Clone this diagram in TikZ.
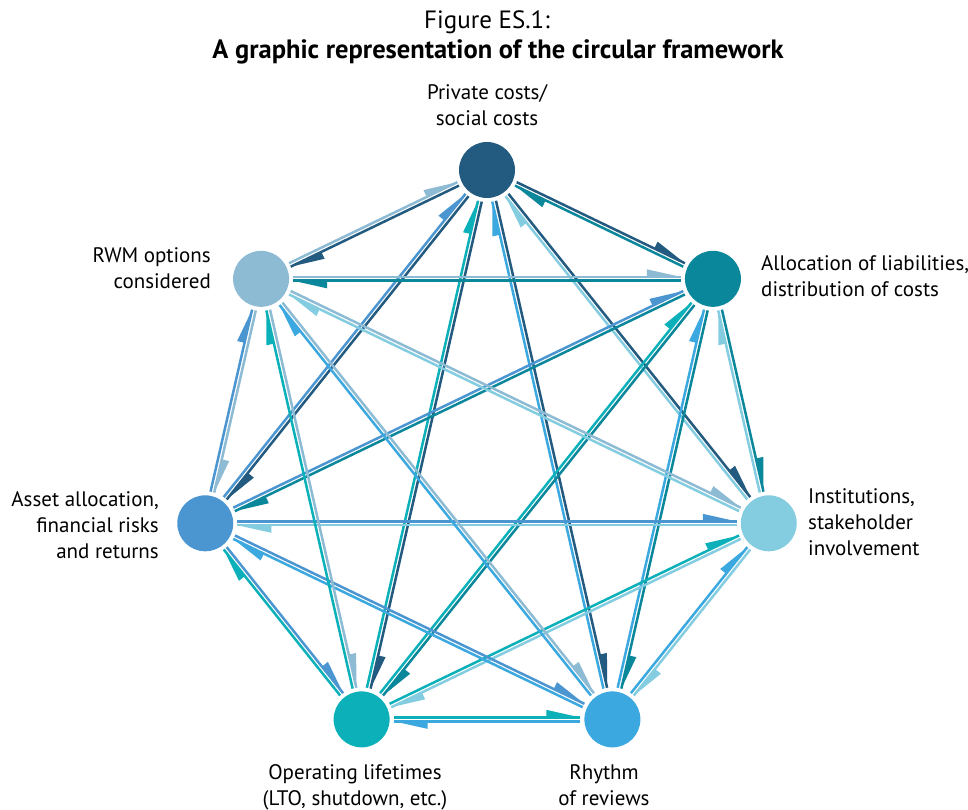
\documentclass[tikz,border=0pt]{standalone}
\usepackage{fontspec}
\setmainfont{PT Sans}
\usetikzlibrary{calc}
\definecolor{cP}{HTML}{235A80}
\definecolor{cA}{HTML}{0A879A}
\definecolor{cI}{HTML}{84CDE0}
\definecolor{cR}{HTML}{3BA8DF}
\definecolor{cO}{HTML}{0BB0B9}
\definecolor{cF}{HTML}{4B95D1}
\definecolor{cW}{HTML}{8EBBD4}
\tikzset{
  circ/.style={circle, minimum size=56pt, inner sep=0pt, draw=none},
  lbl/.style={inner sep=0pt, font=\fontsize{21}{26}\selectfont},
  edgeline/.style={line width=2.5pt},
}
\newcommand\diredge[3]{%
  \draw[edgeline, draw=#3] ($(#1)!32pt!(#2)!1.9pt!90:(#2)$) -- ($(#2)!32pt!(#1)!1.9pt!-90:(#1)$);
  \fill[#3] ($(#2)!32pt!(#1)!1.9pt!-90:(#1)$) -- ($(#2)!66pt!(#1)!9.5pt!-90:(#1)$) -- ($(#2)!66pt!(#1)!1.9pt!-90:(#1)$) -- cycle;
}
\begin{document}
\begin{tikzpicture}[x=1pt,y=1pt]
\useasboundingbox (0,0) rectangle (968,-809);
\coordinate (ctr) at (487,-459);
\node[circ, fill=cP] (P) at ($(ctr)+(90:289)$) {};
\node[circ, fill=cA] (A) at ($(ctr)+(38.571:289)$) {};
\node[circ, fill=cI] (I) at ($(ctr)+(-12.857:289)$) {};
\node[circ, fill=cR] (R) at ($(ctr)+(-64.286:289)$) {};
\node[circ, fill=cO] (O) at ($(ctr)+(-115.714:289)$) {};
\node[circ, fill=cF] (F) at ($(ctr)+(192.857:289)$) {};
\node[circ, fill=cW] (W) at ($(ctr)+(141.429:289)$) {};
\foreach \s/\t in {P/A,P/I,P/R,P/O,P/F,P/W,A/I,A/R,A/O,A/F,A/W,I/R,I/O,I/F,I/W,R/O,R/F,R/W,O/F,O/W,F/W}{
  \diredge{\s}{\t}{c\s}
  \diredge{\t}{\s}{c\t}
}
\node[inner sep=0pt, font=\fontsize{25}{30}\selectfont] (title1) at (487,-22) {Figure ES.1:};
\node[inner sep=0pt, font=\fontsize{26.5}{30}\selectfont\bfseries] (title2) at (498,-52) {A graphic representation of the circular framework};
\node[lbl, anchor=north, align=center] (lP) at (487,-84) {Private costs/\\social costs};
\node[lbl, anchor=north west, align=left] (lA) at (761,-255) {Allocation of liabilities,\\distribution of costs};
\node[lbl, anchor=north west, align=left] (lI) at (808,-488) {Institutions,\\stakeholder\\involvement};
\node[lbl, anchor=north, align=center] (lR) at (604,-764) {Rhythm\\of reviews};
\node[lbl, anchor=north, align=center] (lO) at (355,-764) {Operating lifetimes\\(LTO, shutdown, etc.)};
\node[lbl, anchor=north east, align=right] (lF) at (159,-491) {Asset allocation,\\financial risks\\and returns};
\node[lbl, anchor=north east, align=right] (lW) at (211,-247) {RWM options\\considered};
\end{tikzpicture}
\end{document}
